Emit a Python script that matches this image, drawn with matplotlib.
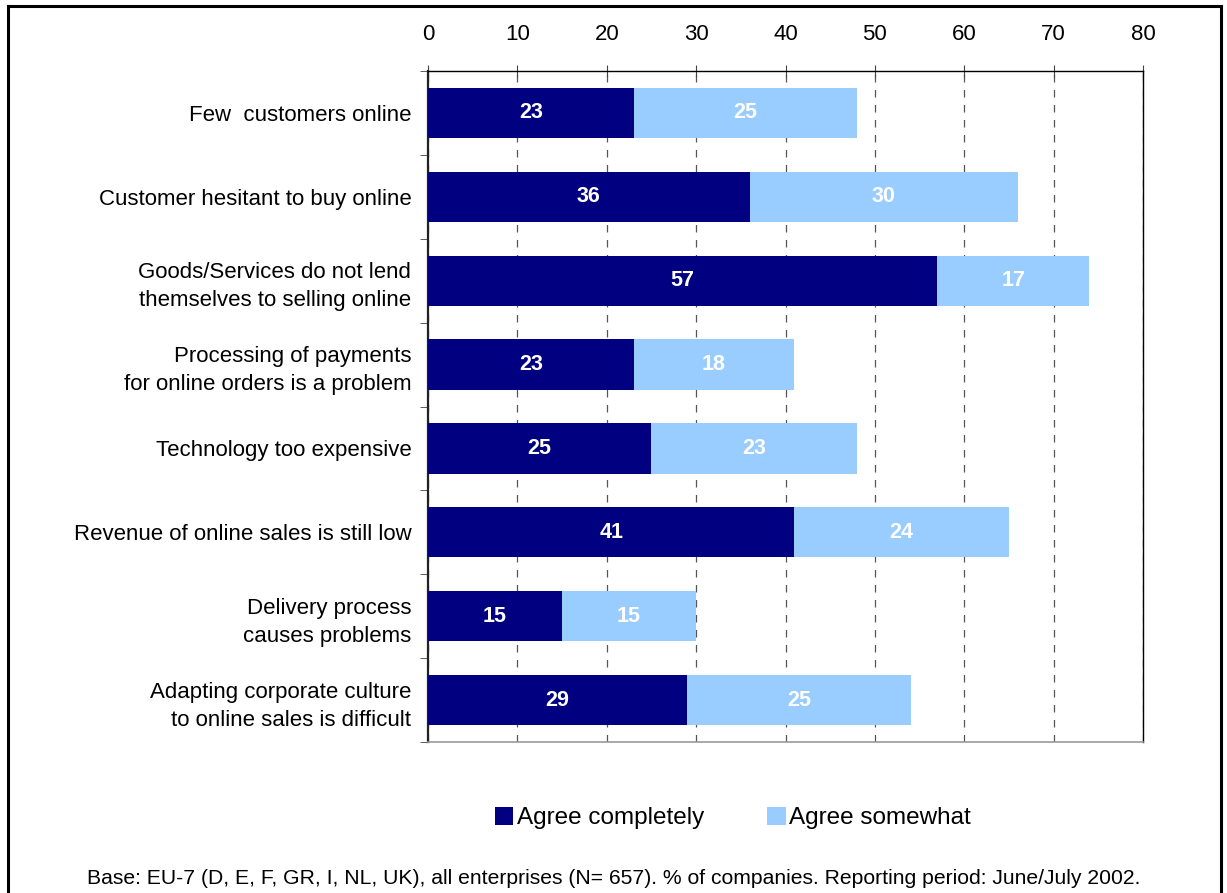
import matplotlib.pyplot as plt
import numpy as np
from matplotlib.lines import Line2D
from matplotlib.patches import Patch

plt.rcParams["font.family"] = ["Liberation Sans", "DejaVu Sans"]

categories = [
    "Few  customers online",
    "Customer hesitant to buy online",
    "Goods/Services do not lend\nthemselves to selling online",
    "Processing of payments\nfor online orders is a problem",
    "Technology too expensive",
    "Revenue of online sales is still low",
    "Delivery process\ncauses problems",
    "Adapting corporate culture\nto online sales is difficult",
]
agree_completely = [23, 36, 57, 23, 25, 41, 15, 29]
agree_somewhat = [25, 30, 17, 18, 23, 24, 15, 25]

dark = "#000080"
light = "#99CCFF"

fig = plt.figure(figsize=(12.27, 8.93), dpi=100)
ax = fig.add_axes([428 / 1227, 1 - 742 / 893, (1143 - 428) / 1227, (742 - 71) / 893])

y = np.arange(len(categories))
ax.barh(y, agree_completely, height=0.6, color=dark, zorder=3)
ax.barh(y, agree_somewhat, left=agree_completely, height=0.6, color=light, zorder=3)

for yi, a, b in zip(y, agree_completely, agree_somewhat):
    ax.text(a / 2, yi, str(a), color="white", fontweight="bold", fontsize=15.5,
            ha="center", va="center", zorder=4)
    ax.text(a + b / 2, yi, str(b), color="white", fontweight="bold", fontsize=15.5,
            ha="center", va="center", zorder=4)

ax.set_xlim(0, 80)
ax.set_ylim(len(categories) - 0.5, -0.5)
ax.xaxis.tick_top()
ax.set_xticks(range(0, 81, 10))
ax.tick_params(axis="x", direction="inout", length=8, labelsize=16, pad=15, color="#444444")
ax.set_yticks(y)
ax.set_yticklabels(categories, fontsize=16, linespacing=1.45)
ax.tick_params(axis="y", length=0, pad=12)
# category separators on the left axis
ax.set_yticks(np.arange(-0.5, len(categories) + 0.5, 1), minor=True)
ax.tick_params(axis="y", which="minor", direction="out", length=6, color="#444444")

ax.grid(axis="x", linestyle=(0, (6, 6)), color="#555555", linewidth=0.9, zorder=0)
for side in ["top", "right"]:
    ax.spines[side].set_color("black")
    ax.spines[side].set_linewidth(1.0)
ax.spines["left"].set_linewidth(1.6)
ax.spines["left"].set_color("#222222")
ax.spines["bottom"].set_color("#999999")
ax.spines["bottom"].set_linewidth(1.2)

handles = [Patch(facecolor=dark, edgecolor="none"), Patch(facecolor=light, edgecolor="none")]
fig.legend(handles, ["Agree completely", "Agree somewhat"], loc="center",
           bbox_to_anchor=(733 / 1227, 1 - 818 / 893), ncol=2, frameon=False,
           fontsize=17.5, handlelength=0.75, handleheight=0.75, handletextpad=0.15,
           columnspacing=2.6)

fig.text(614 / 1227, 1 - 878 / 893,
         "Base: EU-7 (D, E, F, GR, I, NL, UK), all enterprises (N= 657). % of companies. Reporting period: June/July 2002.",
         ha="center", va="center", fontsize=15.2)

# outer frame
for xs, ys in [((8, 1221), (6, 6)), ((8, 8), (6, 893)), ((1221, 1221), (6, 893))]:
    fig.add_artist(Line2D([x / 1227 for x in xs], [1 - v / 893 for v in ys],
                          color="black", linewidth=2.2))

fig.savefig("out.png", dpi=100)
